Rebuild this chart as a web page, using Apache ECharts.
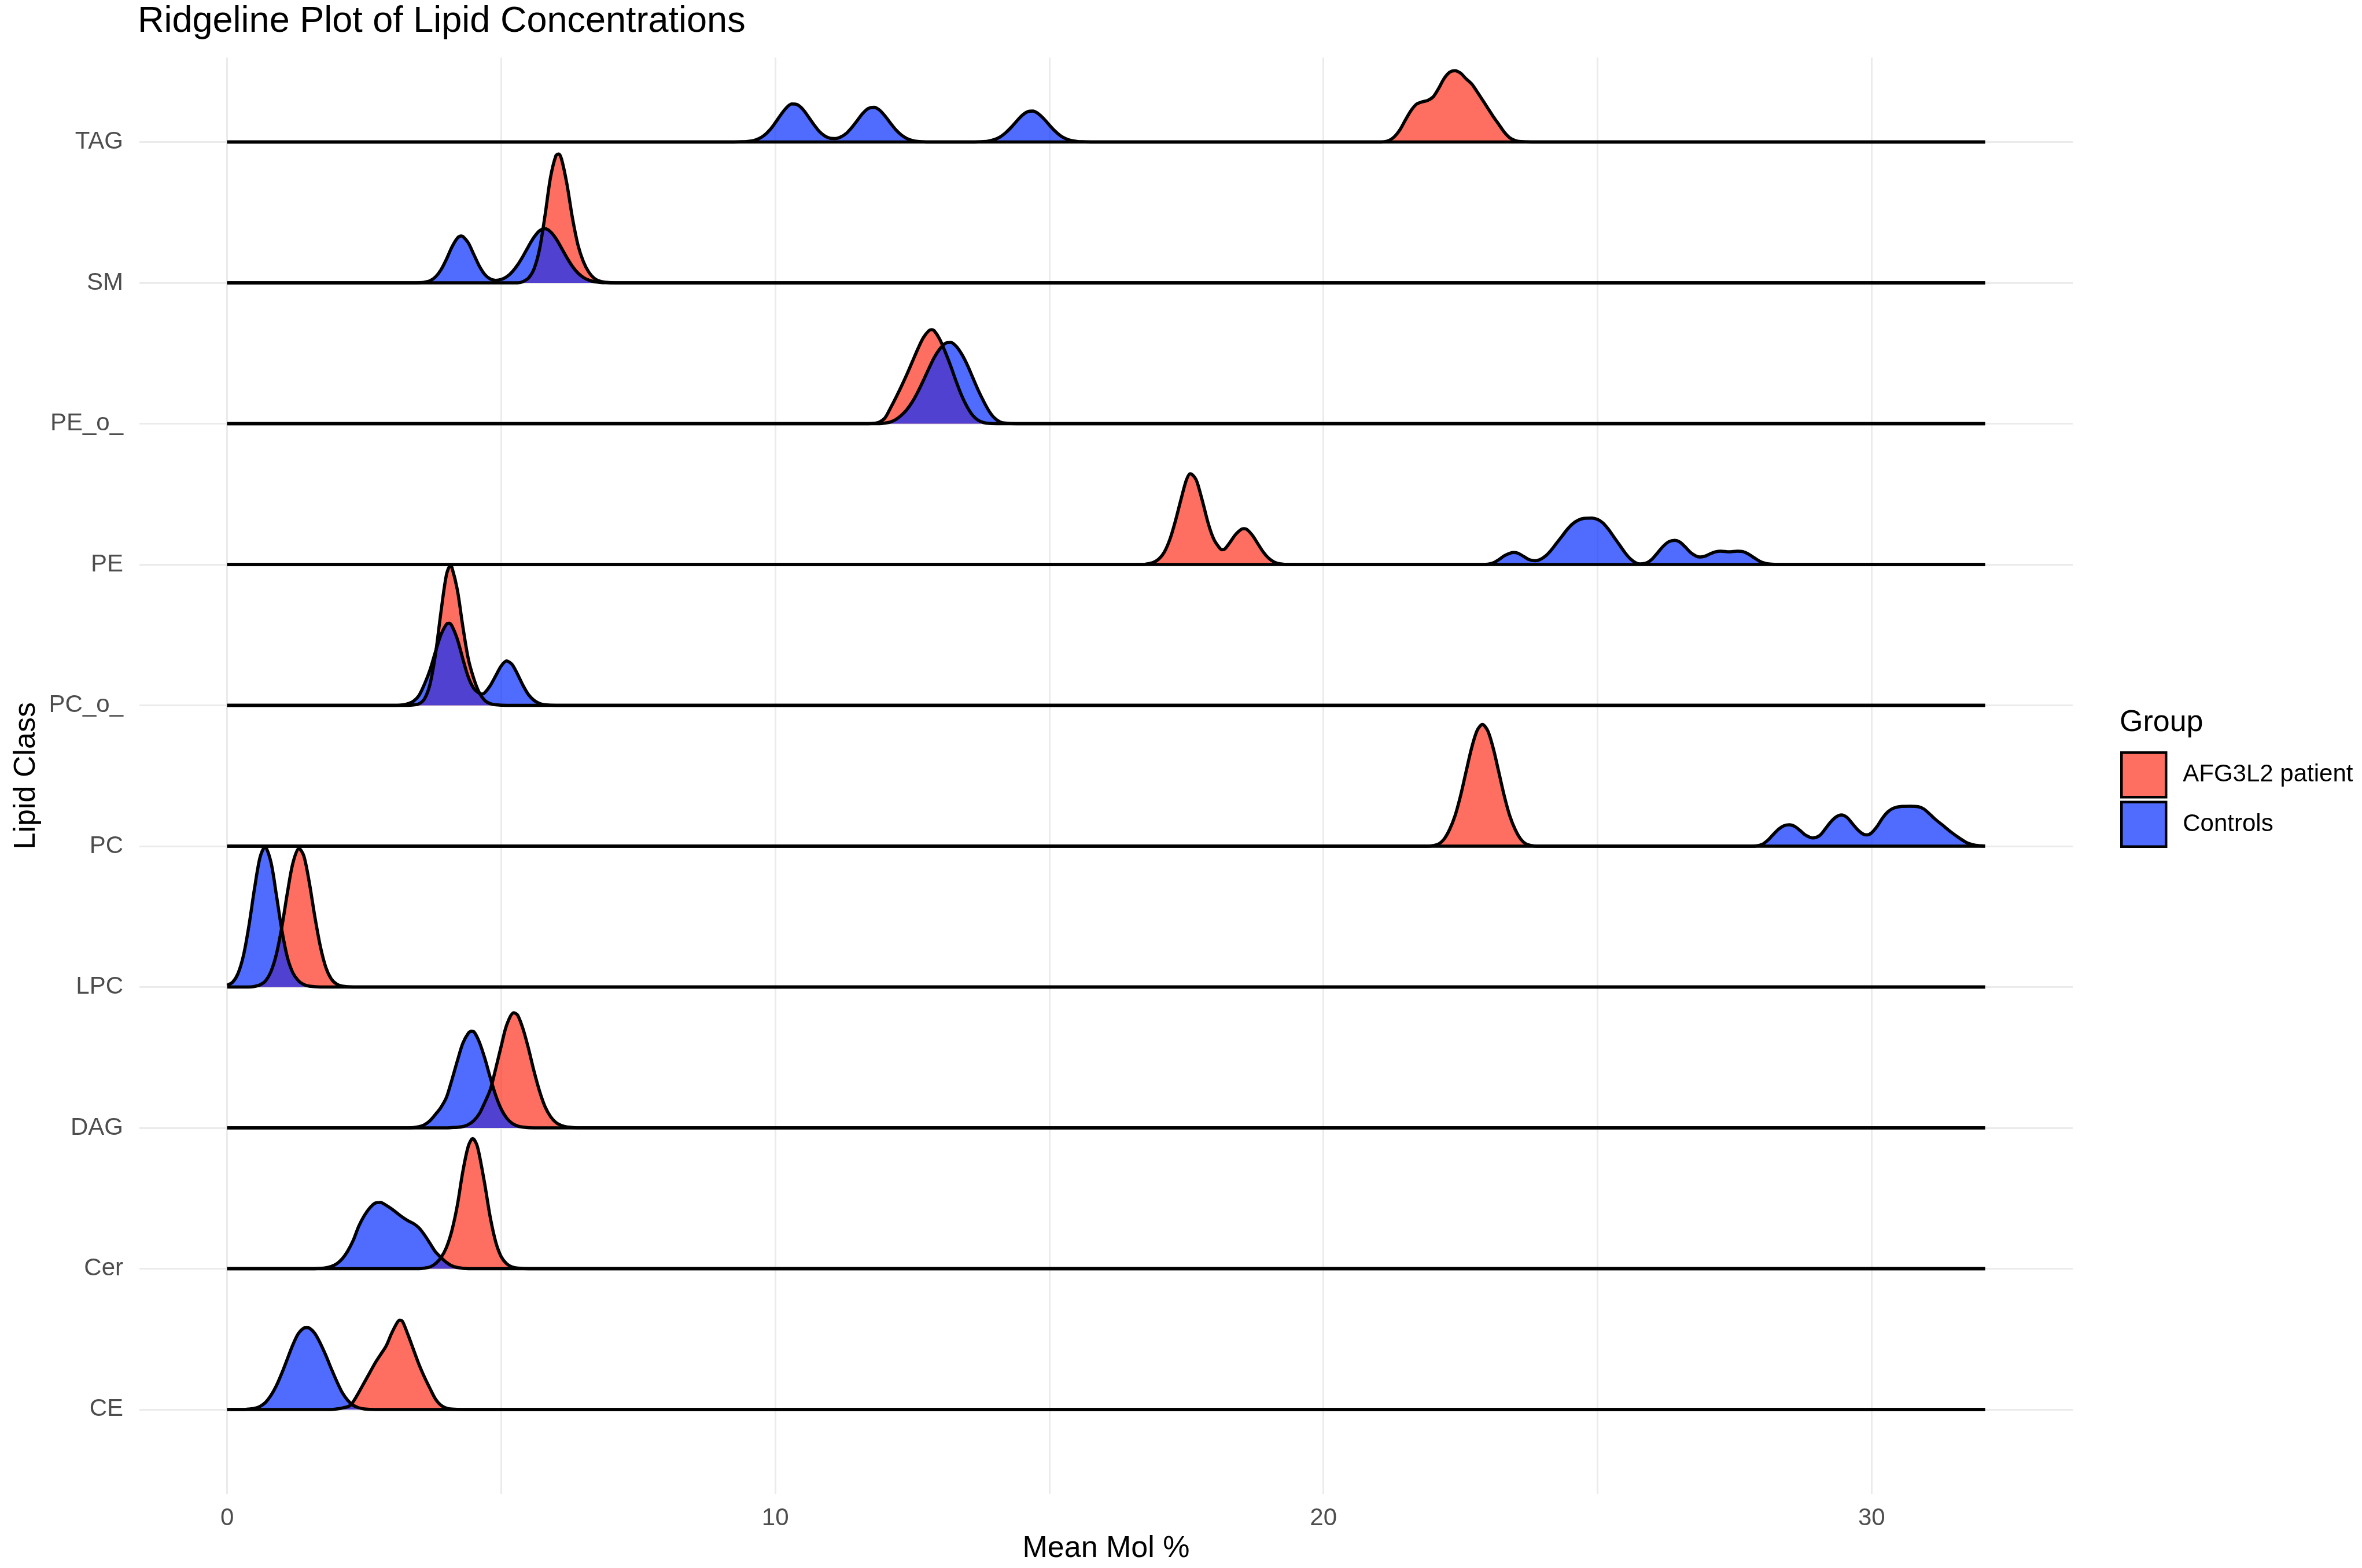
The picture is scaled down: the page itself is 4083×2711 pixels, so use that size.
<!DOCTYPE html>
<html lang="en">
<head>
<meta charset="utf-8">
<title>Ridgeline Plot of Lipid Concentrations</title>
<script src="https://cdn.jsdelivr.net/npm/echarts@6/dist/echarts.min.js"></script>
<style>
  html, body { margin: 0; padding: 0; background: #fff; }
  #chart { width: 4083px; height: 2711px; }
</style>
</head>
<body>
<div id="chart"></div>
<script>
// rows from bottom to top, as on the y axis
var categories = ['CE', 'Cer', 'DAG', 'LPC', 'PC', 'PC_o_', 'PE', 'PE_o_', 'SM', 'TAG'];
var groups = ['AFG3L2 patient', 'Controls'];
var densityRange = [0, 32.07];
var xLabelValues = [0, 10, 20, 30];
var xGridValues = [0, 5, 10, 15, 20, 25, 30];

// density curves: [Mean Mol %, height in row units]
var cePatient = [[1.9,0],[2.0,0.004],[2.1,0.01],[2.2,0.02],[2.25,0.031],[2.3,0.055],[2.4,0.12],[2.5,0.19],[2.6,0.26],[2.7,0.33],[2.8,0.39],[2.9,0.45],[3.0,0.54],[3.1,0.615],[3.15,0.634],[3.2,0.625],[3.3,0.53],[3.4,0.425],[3.5,0.32],[3.6,0.23],[3.7,0.15],[3.8,0.075],[3.9,0.03],[4.0,0.01],[4.1,0.003],[4.3,0]];
var ceControls = [[0.3,0],[0.4,0.003],[0.5,0.008],[0.6,0.022],[0.7,0.05],[0.8,0.1],[0.9,0.17],[1.0,0.26],[1.1,0.36],[1.2,0.46],[1.3,0.54],[1.4,0.578],[1.45,0.581],[1.5,0.578],[1.6,0.54],[1.7,0.47],[1.8,0.385],[1.9,0.29],[2.0,0.2],[2.1,0.12],[2.2,0.065],[2.3,0.03],[2.4,0.012],[2.5,0.004],[2.7,0]];

var cerPatient = [[3.5,0],[3.6,0.004],[3.7,0.012],[3.8,0.035],[3.9,0.078],[4.0,0.15],[4.1,0.27],[4.2,0.45],[4.3,0.69],[4.4,0.87],[4.48,0.924],[4.55,0.885],[4.6,0.81],[4.7,0.6],[4.8,0.365],[4.9,0.19],[5.0,0.085],[5.1,0.035],[5.2,0.012],[5.3,0.004],[5.5,0]];
var cerControls = [[1.6,0],[1.7,0.002],[1.8,0.006],[1.9,0.016],[2.0,0.035],[2.1,0.07],[2.2,0.125],[2.3,0.2],[2.4,0.3],[2.5,0.375],[2.6,0.43],[2.7,0.465],[2.8,0.47],[2.9,0.45],[3.0,0.425],[3.1,0.395],[3.2,0.365],[3.3,0.34],[3.4,0.32],[3.5,0.29],[3.6,0.24],[3.7,0.18],[3.8,0.12],[3.9,0.08],[4.0,0.045],[4.1,0.02],[4.2,0.008],[4.4,0]];

var dagPatient = [[4.0,0],[4.1,0.002],[4.2,0.004],[4.3,0.009],[4.4,0.023],[4.5,0.051],[4.6,0.1],[4.7,0.18],[4.8,0.27],[4.9,0.42],[5.0,0.58],[5.1,0.73],[5.23,0.817],[5.3,0.8],[5.4,0.7],[5.5,0.56],[5.6,0.4],[5.7,0.26],[5.8,0.15],[5.9,0.08],[6.0,0.037],[6.1,0.016],[6.2,0.006],[6.4,0]];
var dagControls = [[3.3,0],[3.4,0.002],[3.5,0.008],[3.6,0.022],[3.7,0.05],[3.8,0.095],[3.9,0.145],[4.0,0.215],[4.1,0.34],[4.2,0.475],[4.3,0.6],[4.4,0.672],[4.46,0.686],[4.5,0.683],[4.6,0.61],[4.7,0.495],[4.8,0.357],[4.9,0.23],[5.0,0.133],[5.1,0.069],[5.2,0.032],[5.3,0.013],[5.4,0.005],[5.6,0]];

var lpcPatient = [[0.4,0],[0.5,0.004],[0.6,0.015],[0.7,0.043],[0.8,0.11],[0.9,0.235],[1.0,0.43],[1.1,0.67],[1.2,0.88],[1.31,0.985],[1.4,0.93],[1.5,0.74],[1.6,0.5],[1.7,0.29],[1.8,0.14],[1.9,0.057],[2.0,0.02],[2.1,0.006],[2.3,0]];
var lpcControls = [[0,0.012],[0.1,0.034],[0.2,0.097],[0.3,0.227],[0.4,0.44],[0.5,0.7],[0.6,0.92],[0.69,0.995],[0.8,0.885],[0.9,0.65],[1.0,0.4],[1.1,0.21],[1.2,0.1],[1.3,0.045],[1.4,0.017],[1.5,0.006],[1.7,0]];

var pcPatient = [[21.9,0],[22.0,0.004],[22.1,0.015],[22.2,0.05],[22.3,0.117],[22.4,0.215],[22.5,0.356],[22.6,0.525],[22.7,0.692],[22.8,0.818],[22.9,0.865],[23.0,0.818],[23.1,0.692],[23.2,0.525],[23.3,0.356],[23.4,0.215],[23.5,0.117],[23.6,0.05],[23.7,0.015],[23.8,0.004],[23.9,0]];
var pcControls = [[27.8,0],[27.9,0.002],[28.0,0.012],[28.1,0.04],[28.2,0.08],[28.3,0.12],[28.4,0.145],[28.5,0.152],[28.6,0.14],[28.7,0.11],[28.8,0.077],[28.93,0.058],[29.05,0.075],[29.15,0.12],[29.25,0.17],[29.35,0.207],[29.45,0.222],[29.55,0.205],[29.65,0.16],[29.75,0.115],[29.85,0.085],[29.92,0.08],[30.0,0.095],[30.1,0.14],[30.2,0.2],[30.3,0.245],[30.4,0.27],[30.55,0.282],[30.7,0.283],[30.85,0.28],[30.95,0.265],[31.05,0.232],[31.15,0.195],[31.3,0.148],[31.45,0.1],[31.6,0.058],[31.75,0.022],[31.9,0.006],[32.07,0.001]];

var pcoPatient = [[3.3,0],[3.4,0.003],[3.5,0.011],[3.6,0.046],[3.7,0.148],[3.8,0.36],[3.9,0.66],[4.0,0.925],[4.07,0.99],[4.1,0.98],[4.2,0.82],[4.3,0.56],[4.4,0.33],[4.5,0.19],[4.6,0.09],[4.7,0.035],[4.8,0.012],[4.9,0.004],[5.1,0]];
var pcoControls = [[3.1,0],[3.2,0.003],[3.3,0.012],[3.4,0.03],[3.5,0.07],[3.6,0.15],[3.7,0.25],[3.8,0.38],[3.9,0.5],[4.0,0.575],[4.05,0.583],[4.1,0.565],[4.2,0.47],[4.3,0.33],[4.4,0.2],[4.5,0.12],[4.6,0.085],[4.65,0.08],[4.7,0.09],[4.8,0.14],[4.9,0.21],[5.0,0.28],[5.1,0.315],[5.2,0.29],[5.3,0.22],[5.4,0.14],[5.5,0.075],[5.6,0.035],[5.7,0.013],[5.8,0.004],[6.0,0]];

var pePatient = [[16.7,0],[16.8,0.005],[16.9,0.015],[17.0,0.04],[17.1,0.09],[17.2,0.18],[17.3,0.31],[17.4,0.46],[17.5,0.6],[17.57,0.645],[17.65,0.62],[17.7,0.58],[17.8,0.44],[17.9,0.29],[18.0,0.18],[18.1,0.12],[18.15,0.105],[18.2,0.11],[18.3,0.16],[18.4,0.215],[18.5,0.25],[18.55,0.255],[18.6,0.25],[18.7,0.21],[18.8,0.15],[18.9,0.09],[19.0,0.045],[19.1,0.018],[19.2,0.005],[19.4,0]];
var peControls = [[22.9,0],[23.0,0.002],[23.1,0.012],[23.2,0.035],[23.3,0.062],[23.4,0.08],[23.47,0.085],[23.55,0.08],[23.65,0.058],[23.75,0.035],[23.86,0.027],[23.95,0.035],[24.05,0.06],[24.15,0.1],[24.25,0.15],[24.35,0.2],[24.45,0.25],[24.55,0.29],[24.65,0.315],[24.75,0.328],[24.9,0.33],[25.0,0.32],[25.1,0.295],[25.2,0.25],[25.3,0.195],[25.4,0.14],[25.5,0.085],[25.6,0.04],[25.7,0.012],[25.78,0.004],[25.9,0.012],[26.0,0.04],[26.1,0.085],[26.2,0.13],[26.3,0.162],[26.41,0.172],[26.5,0.16],[26.6,0.125],[26.7,0.085],[26.8,0.06],[26.87,0.053],[26.95,0.058],[27.05,0.075],[27.15,0.09],[27.25,0.095],[27.4,0.09],[27.55,0.095],[27.65,0.092],[27.75,0.075],[27.85,0.05],[27.95,0.025],[28.05,0.01],[28.15,0.003],[28.3,0]];

var peoPatient = [[11.7,0],[11.8,0.003],[11.9,0.012],[12.0,0.04],[12.1,0.11],[12.2,0.185],[12.3,0.265],[12.4,0.35],[12.5,0.44],[12.6,0.53],[12.7,0.61],[12.8,0.66],[12.85,0.668],[12.9,0.66],[13.0,0.6],[13.1,0.51],[13.2,0.41],[13.3,0.3],[13.4,0.2],[13.5,0.12],[13.6,0.06],[13.7,0.025],[13.8,0.008],[13.9,0.002],[14.1,0]];
var peoControls = [[11.9,0],[12.0,0.004],[12.1,0.012],[12.2,0.03],[12.3,0.06],[12.4,0.1],[12.5,0.155],[12.6,0.225],[12.7,0.305],[12.8,0.39],[12.9,0.47],[13.0,0.53],[13.1,0.57],[13.2,0.577],[13.3,0.55],[13.4,0.495],[13.5,0.42],[13.6,0.33],[13.7,0.24],[13.8,0.16],[13.9,0.09],[14.0,0.04],[14.1,0.013],[14.2,0.004],[14.4,0]];

var smPatient = [[5.3,0],[5.4,0.01],[5.5,0.035],[5.6,0.1],[5.7,0.24],[5.8,0.48],[5.9,0.75],[6.0,0.905],[6.05,0.915],[6.1,0.88],[6.2,0.7],[6.3,0.46],[6.4,0.27],[6.5,0.15],[6.6,0.075],[6.7,0.032],[6.8,0.012],[6.9,0.004],[7.1,0]];
var smControls = [[3.4,0],[3.5,0.001],[3.6,0.005],[3.7,0.015],[3.8,0.042],[3.9,0.092],[4.0,0.167],[4.1,0.254],[4.2,0.318],[4.27,0.333],[4.3,0.33],[4.4,0.284],[4.5,0.202],[4.6,0.12],[4.7,0.06],[4.8,0.028],[4.9,0.018],[5.0,0.024],[5.1,0.043],[5.2,0.078],[5.3,0.128],[5.4,0.191],[5.5,0.261],[5.6,0.325],[5.7,0.37],[5.8,0.384],[5.9,0.363],[6.0,0.314],[6.1,0.247],[6.2,0.178],[6.3,0.117],[6.4,0.07],[6.5,0.038],[6.6,0.019],[6.7,0.0085],[6.8,0.0035],[6.9,0.001],[7.1,0]];

var tagPatient = [[21.0,0],[21.1,0.002],[21.2,0.012],[21.3,0.04],[21.4,0.09],[21.5,0.16],[21.6,0.225],[21.7,0.27],[21.8,0.285],[21.9,0.295],[22.0,0.32],[22.1,0.38],[22.2,0.45],[22.3,0.495],[22.4,0.507],[22.5,0.49],[22.6,0.45],[22.7,0.415],[22.8,0.36],[22.9,0.3],[23.0,0.24],[23.1,0.18],[23.2,0.125],[23.3,0.07],[23.4,0.03],[23.5,0.01],[23.6,0.003],[23.8,0]];
var tagControls = [[9.2,0],[9.4,0.002],[9.5,0.005],[9.6,0.01],[9.7,0.024],[9.8,0.048],[9.9,0.086],[10.0,0.137],[10.1,0.193],[10.2,0.242],[10.3,0.27],[10.4,0.266],[10.5,0.234],[10.6,0.182],[10.7,0.126],[10.8,0.077],[10.9,0.044],[11.0,0.027],[11.1,0.025],[11.2,0.037],[11.3,0.063],[11.4,0.105],[11.5,0.155],[11.6,0.205],[11.7,0.239],[11.8,0.247],[11.9,0.228],[12.0,0.186],[12.1,0.135],[12.2,0.087],[12.3,0.05],[12.4,0.025],[12.5,0.011],[12.6,0.0045],[12.8,0],[13.6,0],[13.7,0.001],[13.8,0.003],[13.9,0.008],[14.0,0.018],[14.1,0.036],[14.2,0.065],[14.3,0.103],[14.4,0.147],[14.5,0.188],[14.6,0.215],[14.7,0.22],[14.8,0.201],[14.9,0.165],[15.0,0.121],[15.1,0.079],[15.2,0.046],[15.3,0.024],[15.4,0.011],[15.5,0.005],[15.6,0.002],[15.8,0]];

// per category: [patient, controls]
var curves = {
    CE: [cePatient, ceControls],
    Cer: [cerPatient, cerControls],
    DAG: [dagPatient, dagControls],
    LPC: [lpcPatient, lpcControls],
    PC: [pcPatient, pcControls],
    PC_o_: [pcoPatient, pcoControls],
    PE: [pePatient, peControls],
    PE_o_: [peoPatient, peoControls],
    SM: [smPatient, smControls],
    TAG: [tagPatient, tagControls]
};

var fills = ['rgba(255,50,30,0.7)', 'rgba(5,45,255,0.7)'];
var font = "'Liberation Sans', Arial, Helvetica, sans-serif";

function ridgeData(points, base) {
    var d = points.map(function (p) { return [p[0], base + p[1]]; });
    if (points[0][0] > densityRange[0]) d.unshift([densityRange[0], base]);
    if (points[points.length - 1][0] < densityRange[1]) d.push([densityRange[1], base]);
    return d;
}

var series = [];
// top row first so lower ridges are drawn over it
for (var i = categories.length - 1; i >= 0; i--) {
    var cat = categories[i];
    for (var g = 0; g < 2; g++) {
        series.push({
            type: 'line',
            name: groups[g],
            data: ridgeData(curves[cat][g], i),
            smooth: 0.3,
            showSymbol: false,
            symbol: 'none',
            silent: true,
            lineStyle: { color: '#000', width: 5.5 },
            itemStyle: { color: fills[g] },
            areaStyle: { color: fills[g], opacity: 1, origin: i }
        });
    }
}

var chart = echarts.init(document.getElementById('chart'));
chart.setOption({
    animation: false,
    backgroundColor: '#fff',
    textStyle: { fontFamily: font },
    title: [
        {
            text: 'Ridgeline Plot of Lipid Concentrations',
            left: 238, top: 6, padding: 0,
            textStyle: { fontFamily: font, fontSize: 63, fontWeight: 'normal', color: '#000' }
        },
        {
            text: 'Group',
            left: 3664, top: 1224, padding: 0,
            textStyle: { fontFamily: font, fontSize: 52, fontWeight: 'normal', color: '#000' }
        }
    ],
    legend: {
        orient: 'vertical',
        left: 3665, top: 1299, padding: 0,
        itemWidth: 77, itemHeight: 77, itemGap: 4,
        selectedMode: false,
        textStyle: { fontFamily: font, fontSize: 42, color: '#000', padding: [0, 0, 0, 24] },
        data: groups.map(function (gname, k) {
            return { name: gname, icon: 'rect', itemStyle: { color: fills[k], borderColor: '#000', borderWidth: 4.5 } };
        })
    },
    grid: { left: 241, right: 500, top: 99.5, bottom: 128, containLabel: false, outerBoundsMode: 'none' },
    xAxis: {
        type: 'value',
        min: -1.6, max: 33.67,
        name: 'Mean Mol %',
        nameLocation: 'middle',
        nameGap: 69,
        nameTextStyle: { fontFamily: font, fontSize: 52, color: '#000' },
        axisLine: { show: false },
        axisTick: { show: false, customValues: xGridValues },
        axisLabel: { customValues: xLabelValues, margin: 21, fontSize: 42, color: '#4D4D4D', fontFamily: font },
        splitLine: { show: true, lineStyle: { color: '#EBEBEB', width: 3 } }
    },
    yAxis: {
        type: 'value',
        min: -0.6, max: 9.6,
        name: 'Lipid Class',
        nameLocation: 'middle',
        nameRotate: 90,
        nameGap: 169,
        nameTextStyle: { fontFamily: font, fontSize: 52, color: '#000' },
        axisLine: { show: false },
        axisTick: { show: false, customValues: categories.map(function (c, k) { return k; }) },
        axisLabel: {
            customValues: categories.map(function (c, k) { return k; }),
            formatter: function (v) { return categories[Math.round(v)]; },
            margin: 28, fontSize: 42, color: '#4D4D4D', fontFamily: font
        },
        splitLine: { show: true, lineStyle: { color: '#EBEBEB', width: 3 } }
    },
    series: series
});
</script>
</body>
</html>
